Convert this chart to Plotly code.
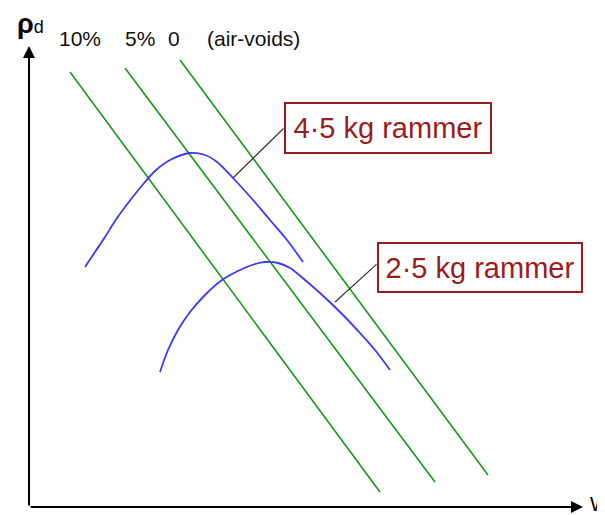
import plotly.graph_objects as go

# ---- data (arbitrary units: x = water content w, y = dry density rho_d) ----
void_labels = ["10%", "5%", "0"]
void_x_start = [70, 125, 180]
void_y_start = [443, 447, 455]
void_x_end = [380, 435, 488]
void_y_end = [23, 33, 40]

heavy_w = [85, 95, 105, 115, 125, 140, 155, 170, 190, 205, 217, 233, 253, 270, 287, 303]
heavy_rho = [248, 263, 278, 294, 308, 327, 344, 355, 362, 360, 353, 337, 315, 295, 275, 253]

light_w = [160, 168, 178, 190, 205, 222, 240, 255, 265, 278, 290, 305, 320, 340, 360, 375, 390]
light_rho = [143, 165, 185, 203, 220, 235, 245, 251, 253, 252, 247, 235, 222, 203, 182, 165, 145]

curve_names = ["4·5 kg rammer", "2·5 kg rammer"]

GREEN = "#1a961a"
BLUE = "#3a3aff"
RED = "#9b1c1c"
FONT = "Liberation Sans"

fig = go.Figure()

for lab, x0, y0, x1, y1 in zip(void_labels, void_x_start, void_y_start, void_x_end, void_y_end):
    fig.add_trace(go.Scatter(x=[x0, x1], y=[y0, y1], mode="lines",
                             line=dict(color=GREEN, width=1.6), name=lab, hoverinfo="skip"))

fig.add_trace(go.Scatter(x=heavy_w, y=heavy_rho, mode="lines", line=dict(color=BLUE, width=1.8, shape="spline"),
                         name=curve_names[0]))
fig.add_trace(go.Scatter(x=light_w, y=light_rho, mode="lines", line=dict(color=BLUE, width=1.8, shape="spline"),
                         name=curve_names[1]))

ann = []
# axes with arrows
ann.append(dict(x=29, y=469, ax=29, ay=8, xref="x", yref="y", axref="x", ayref="y",
                showarrow=True, arrowhead=2, arrowsize=1.2, arrowwidth=2, arrowcolor="black", text=""))
ann.append(dict(x=583, y=8, ax=29, ay=8, xref="x", yref="y", axref="x", ayref="y",
                showarrow=True, arrowhead=2, arrowsize=1.2, arrowwidth=2, arrowcolor="black", text=""))
ann.append(dict(x=15, y=491, xref="x", yref="y", showarrow=False,
                text="<b>ρ</b><span style='font-size:18px'>d</span>",
                font=dict(family=FONT, size=27, color="black"), xanchor="left", yanchor="middle"))
ann.append(dict(x=588, y=11, xref="x", yref="y", showarrow=False, text="W",
                font=dict(family=FONT, size=20, color="black"), xanchor="left", yanchor="middle"))

# air-void labels
label_x = [80, 139.5, 174]
for lab, lx in zip(void_labels, label_x):
    ann.append(dict(x=lx, y=477, xref="x", yref="y", showarrow=False, text=lab,
                    font=dict(family=FONT, size=21, color="#111"), xanchor="center", yanchor="middle"))
ann.append(dict(x=253, y=477, xref="x", yref="y", showarrow=False, text="(air-voids)",
                font=dict(family=FONT, size=21, color="#111"), xanchor="center", yanchor="middle"))

# callout leader lines
ann.append(dict(x=233, y=337, ax=285, ay=388, xref="x", yref="y", axref="x", ayref="y",
                showarrow=True, arrowhead=0, arrowwidth=1.2, arrowcolor="#333", text=""))
ann.append(dict(x=335, y=213, ax=378, ay=252, xref="x", yref="y", axref="x", ayref="y",
                showarrow=True, arrowhead=0, arrowwidth=1.2, arrowcolor="#333", text=""))

# callout boxes
ann.append(dict(x=388, y=387, xref="x", yref="y", showarrow=False, text=curve_names[0],
                font=dict(family=FONT, size=29, color=RED), bordercolor=RED, borderwidth=2,
                bgcolor="white", width=204, height=48, borderpad=0))
ann.append(dict(x=480, y=247.5, xref="x", yref="y", showarrow=False, text=curve_names[1],
                font=dict(family=FONT, size=29, color=RED), bordercolor=RED, borderwidth=2,
                bgcolor="white", width=202, height=47, borderpad=0))

# the page body has an 8px margin, so the axis ranges are shifted to keep positions aligned
fig.update_layout(
    width=605, height=515, autosize=False,
    margin=dict(l=0, r=0, t=0, b=0),
    paper_bgcolor="white", plot_bgcolor="white",
    showlegend=False,
    xaxis=dict(range=[8, 613], visible=False, fixedrange=True),
    yaxis=dict(range=[-8, 507], visible=False, fixedrange=True),
    annotations=ann,
)

fig.write_html("out.html")
